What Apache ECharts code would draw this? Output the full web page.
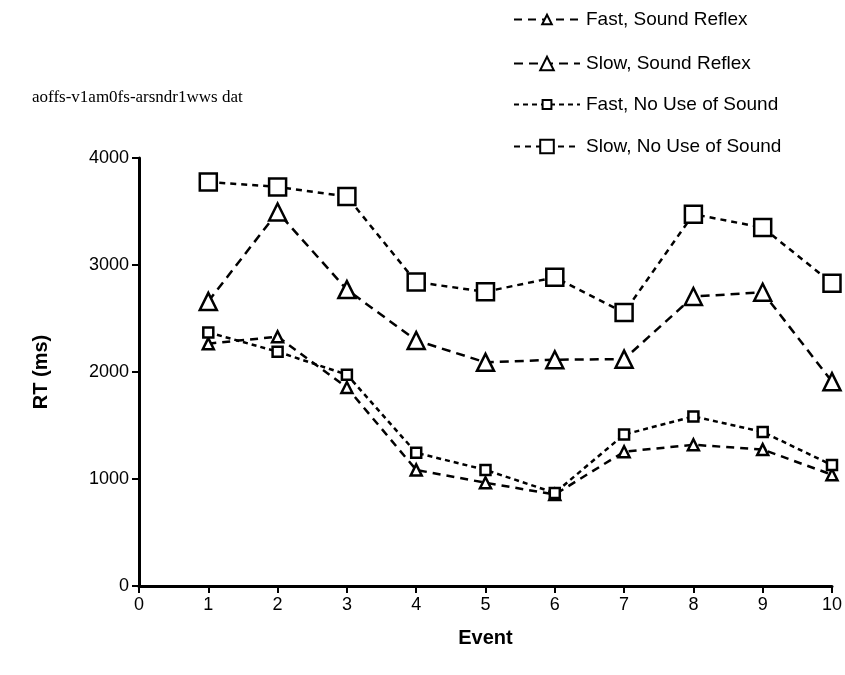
<!DOCTYPE html>
<html>
<head>
<meta charset="utf-8">
<script src="https://cdn.jsdelivr.net/npm/echarts@6/dist/echarts.min.js"></script>
<style>
html, body { margin: 0; padding: 0; background: #fff; }
#chart { width: 845px; height: 675px; }
</style>
</head>
<body>
<div id="chart"></div>
<script>
// event numbers
var events = [1, 2, 3, 4, 5, 6, 7, 8, 9, 10];
// RT in ms
var fastReflex = [2265, 2330, 1855, 1085, 965, 855, 1255, 1320, 1275, 1040];
var slowReflex = [2660, 3495, 2770, 2295, 2090, 2115, 2120, 2705, 2745, 1910];
var fastNoSound = [2370, 2190, 1975, 1245, 1085, 870, 1415, 1585, 1440, 1130];
var slowNoSound = [3776, 3730, 3640, 2840, 2750, 2885, 2555, 3475, 3350, 2830];
var seriesNames = ['Fast, Sound Reflex', 'Slow, Sound Reflex', 'Fast, No Use of Sound', 'Slow, No Use of Sound'];

function pairs(ys) {
    return events.map(function(x, i) { return [x, ys[i]]; });
}

// 一条线
function makeSeries(name, ys, symbol, size, dash) {
    return {
        name: name,
        type: 'line',
        data: pairs(ys),
        symbol: symbol,
        symbolSize: size,
        showAllSymbol: true,
        lineStyle: { color: '#000', width: 2.5, type: dash },
        itemStyle: { color: '#fff', borderColor: '#000', borderWidth: 2.5 },
        emphasis: { disabled: true },
        z: 3
    };
}

// one legend per row so the marker size can differ
function makeLegend(name, top, markSize) {
    return {
        orient: 'vertical',
        left: 508,
        top: top,
        itemWidth: 66,
        itemHeight: markSize,
        selectedMode: false,
        textStyle: { fontFamily: 'Liberation Sans', fontSize: 19, color: '#000', padding: [0, 0, 0, 1] },
        data: [name]
    };
}

var myChart = echarts.init(document.getElementById('chart'));
var options = {
    animation: false,
    backgroundColor: '#fff',
    title: {
        text: 'aoffs-v1am0fs-arsndr1wws dat',
        left: 27,
        top: 84,
        textStyle: { fontFamily: 'Liberation Serif', fontSize: 17, fontWeight: 'normal', color: '#000' }
    },
    legend: [
        makeLegend(seriesNames[0], 5, 12),
        makeLegend(seriesNames[1], 49, 17),
        makeLegend(seriesNames[2], 90, 11),
        makeLegend(seriesNames[3], 132, 17)
    ],
    grid: { left: 139, right: 13, top: 158, bottom: 89, containLabel: false },
    xAxis: {
        type: 'value',
        min: 0,
        max: 10,
        interval: 1,
        name: 'Event',
        nameLocation: 'middle',
        nameGap: 42,
        nameTextStyle: { fontFamily: 'Liberation Sans', fontSize: 20, fontWeight: 'bold', color: '#000' },
        axisLine: { lineStyle: { color: '#000', width: 3 } },
        axisTick: { lineStyle: { color: '#000', width: 2 }, length: 7 },
        axisLabel: { fontFamily: 'Liberation Sans', fontSize: 18, color: '#000', margin: 10 },
        splitLine: { show: false }
    },
    yAxis: {
        type: 'value',
        min: 0,
        max: 4000,
        interval: 1000,
        name: 'RT (ms)',
        nameLocation: 'middle',
        nameGap: 88,
        nameRotate: 90,
        nameTextStyle: { fontFamily: 'Liberation Sans', fontSize: 20, fontWeight: 'bold', color: '#000' },
        axisLine: { show: true, lineStyle: { color: '#000', width: 3 } },
        axisTick: { show: true, lineStyle: { color: '#000', width: 2 }, length: 7 },
        axisLabel: {
            fontFamily: 'Liberation Sans', fontSize: 18, color: '#000', margin: 10,
            formatter: function(v) { return String(v); }
        },
        splitLine: { show: false }
    },
    series: [
        makeSeries(seriesNames[0], fastReflex, 'triangle', 11, [8, 6]),
        makeSeries(seriesNames[1], slowReflex, 'triangle', 17, [9, 6]),
        makeSeries(seriesNames[2], fastNoSound, 'rect', 10, [5, 4]),
        makeSeries(seriesNames[3], slowNoSound, 'rect', 17, [6, 5])
    ]
};
myChart.setOption(options);
</script>
</body>
</html>
